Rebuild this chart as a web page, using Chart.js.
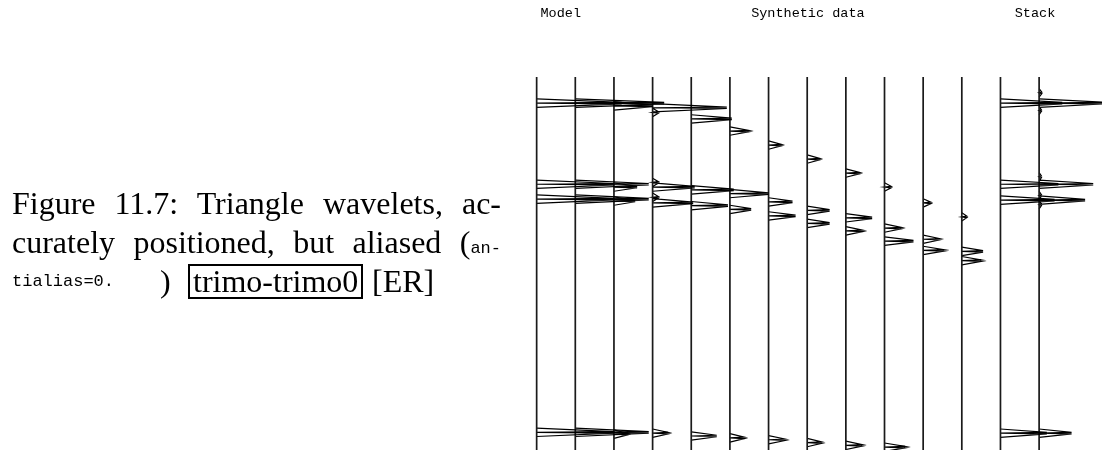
<!DOCTYPE html>
<html>
<head>
<meta charset="utf-8">
<title>trimo-trimo0</title>
<script src="https://cdn.jsdelivr.net/npm/chart.js@4.4.1/dist/chart.umd.min.js"></script>
<style>
  html, body { margin: 0; padding: 0; background: #fff; }
  #pagina { position: relative; width: 1102px; height: 450px; overflow: hidden; }
  #grafico { position: absolute; left: 0; top: 0; }
  .caption { position: absolute; left: 12px; top: 184px; width: 489px;
             font-family: "Liberation Serif", "Times New Roman", serif; font-size: 32px; color: #000; }
  .linea { height: 39px; line-height: 39px; text-align: justify; text-align-last: justify; }
  .linea3 { position: relative; height: 39px; line-height: 39px; }
  .linea3 span { position: absolute; top: 0; }
  .tt { font-family: "Liberation Mono", monospace; font-size: 17px; }
  .caja { border: 2px solid #000; line-height: 31px; padding: 0 3px; top: 2px !important; }
</style>
</head>
<body>
<div id="pagina">
  <canvas id="grafico" width="1102" height="450"></canvas>
  <div class="caption">
    <div class="linea">Figure 11.7: Triangle wavelets, ac-</div>
    <div class="linea">curately positioned, but aliased (<span class="tt">an-</span></div>
    <div class="linea3">
      <span class="tt" style="left:0">tialias=0.</span>
      <span style="left:148px">)</span>
      <span class="caja" style="left:176px">trimo-trimo0</span>
      <span style="left:360px">[ER]</span>
    </div>
  </div>
</div>

<script>
// trazas: 0-4 modelo, 5-11 datos sinteticos, 12-13 stack
const trazas = [0, 1, 2, 3, 4, 5, 6, 7, 8, 9, 10, 11, 12, 13];
const titulos = ["Model", "Synthetic data", "Stack"];

// tiempos (s) y amplitudes (en espacios entre trazas) de cada evento
const tiempoA = [0.28, 0.28, 0.31, 0.33, 0.45, 0.58, 0.73, 0.88, 1.03, 1.18, 1.35, 1.50, 0.28, 0.28];
const ampA    = [2.2, 2.3, 1.0, 1.92, 1.05, 0.48, 0.33, 0.32, 0.35, 0.17, 0.20, 0.13, 1.6, 1.7];
const tiempoB = [1.15, 1.15, 1.18, 1.18, 1.21, 1.25, 1.34, 1.43, 1.51, 1.62, 1.74, 1.87, 1.15, 1.15];
const ampB    = [2.0, 1.9, 0.6, 1.09, 1.1, 1.0, 0.62, 0.58, 0.68, 0.43, 0.42, 0.55, 1.5, 1.4];
const tiempoC = [1.31, 1.31, 1.33, 1.35, 1.38, 1.42, 1.49, 1.57, 1.65, 1.76, 1.86, 1.97, 1.32, 1.32];
const ampC    = [2.0, 1.9, 0.55, 1.05, 0.95, 0.55, 0.7, 0.58, 0.43, 0.75, 0.53, 0.5, 1.4, 1.19];
const tiempoD = [3.81, 3.81, 3.83, 3.82, 3.85, 3.87, 3.89, 3.92, 3.95, 3.97, null, null, 3.82, 3.82];
const ampD    = [2.0, 1.9, 0.35, 0.4, 0.66, 0.37, 0.43, 0.37, 0.42, 0.53, null, null, 1.2, 0.84];

// pequeños lobulos laterales
const loboTraza  = [3, 3, 3, 13, 13, 13, 13, 13];
const loboTiempo = [0.38, 1.13, 1.29, 0.17, 0.36, 1.07, 1.27, 1.37];
const loboAmp    = [0.15, 0.15, 0.15, 0.07, 0.06, 0.06, 0.06, 0.06];

const T_MAX = 4.0;
const MEDIO = 0.045;  // medio ancho de la ondicula (s)
const PUNTA = 0.008;  // separacion de las dos muestras de la punta (s)

function ondicula(k, t, a) {
    return [
        {x: k, y: t - MEDIO},
        {x: k + a, y: t - PUNTA},
        {x: k, y: t},
        {x: k + a, y: t + PUNTA},
        {x: k, y: t + MEDIO},
        {x: k, y: null}
    ];
}

const datasets = [];

trazas.forEach(k => {
    datasets.push({
        data: [{x: k, y: 0}, {x: k, y: T_MAX}],
        borderColor: "#1a1a1a",
        borderWidth: 1.7
    });

    let puntos = [];
    [[tiempoA, ampA], [tiempoB, ampB], [tiempoC, ampC], [tiempoD, ampD]].forEach(([t, a]) => {
        if (t[k] !== null) puntos = puntos.concat(ondicula(k, t[k], a[k]));
    });
    loboTraza.forEach((kk, i) => {
        if (kk === k) puntos = puntos.concat(ondicula(k, loboTiempo[i], loboAmp[i]));
    });

    datasets.push({
        data: puntos,
        borderColor: "#000",
        borderWidth: 1.2
    });
});

datasets.forEach(d => {
    d.showLine = true;
    d.pointRadius = 0;
    d.spanGaps = false;
});

const cabeceras = {
    id: "cabeceras",
    afterDraw(chart) {
        const ctx = chart.ctx;
        const xs = chart.scales.x;
        const posicion = [0.1, 5.55, 12.37];
        ctx.save();
        ctx.font = '13.5px "Liberation Mono"';
        ctx.fillStyle = "#000";
        titulos.forEach((t, i) => ctx.fillText(t, xs.getPixelForValue(posicion[i]), 17));
        ctx.restore();
    }
};

new Chart(document.getElementById("grafico"), {
    type: "scatter",
    data: { datasets },
    options: {
        responsive: false,
        animation: false,
        devicePixelRatio: 1,
        layout: { padding: { left: 498, right: 0, top: 77, bottom: 0 } },
        plugins: { legend: { display: false }, tooltip: { enabled: false } },
        scales: {
            x: { type: "linear", min: -1, max: 14.627, display: false },
            y: { type: "linear", min: 0, max: T_MAX, reverse: true, display: false }
        }
    },
    plugins: [cabeceras]
});
</script>
</body>
</html>
